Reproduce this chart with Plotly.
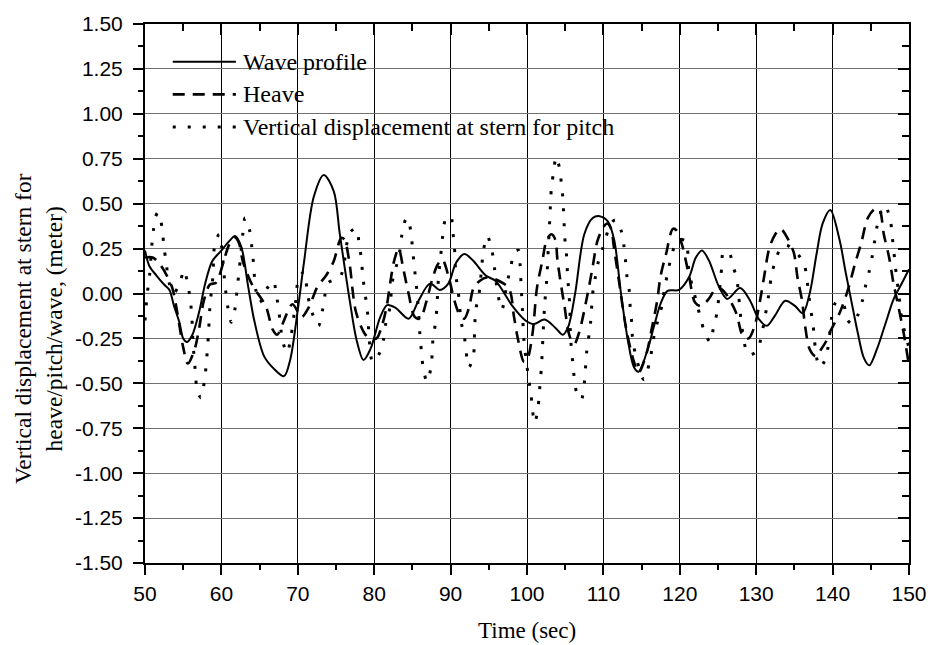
import plotly.graph_objects as go

# ---------------- data ----------------
t_wave = [50.0, 50.6, 51.5, 52.5, 53.2, 53.8, 54.5, 55.0, 55.5, 56.2, 57.1, 57.9, 58.8, 59.9, 61.0, 61.8, 62.6, 63.5, 64.3, 65.6,
          66.9, 68.2, 69.0, 70.0, 70.8, 72.1, 73.4, 74.7, 75.5, 76.8, 77.7, 78.6, 79.5, 80.8, 81.7, 82.8, 84.5, 85.8, 87.3, 88.6,
          89.7, 90.7, 91.8, 92.9, 94.6, 95.9, 98.1, 99.8, 100.9, 102.3, 103.7, 104.7, 105.4, 106.3, 107.5, 108.6, 109.5, 110.6, 111.4, 112.3,
          113.2, 114.0, 114.6, 115.8, 116.7, 117.5, 118.4, 119.9, 121.2, 122.1, 122.9, 123.8, 125.1, 126.2, 127.9, 129.2, 130.3, 131.4, 132.5, 133.8,
          135.1, 136.1, 137.0, 137.9, 138.7, 139.7, 140.9, 141.7, 142.4, 143.3, 144.1, 144.8, 145.8, 146.9, 148.0, 149.1, 150.0]
wave = [0.24, 0.15, 0.10, 0.05, 0.02, -0.07, -0.16, -0.25, -0.27, -0.23, -0.10, 0.06, 0.18, 0.235, 0.29, 0.32, 0.26, 0.04, -0.15, -0.35,
        -0.42, -0.46, -0.37, -0.09, 0.17, 0.54, 0.66, 0.57, 0.33, -0.04, -0.26, -0.37, -0.31, -0.13, -0.065, -0.08, -0.14, -0.04, 0.055, 0.02,
        0.055, 0.17, 0.22, 0.185, 0.10, 0.07, -0.07, -0.15, -0.17, -0.145, -0.19, -0.23, -0.185, 0.0, 0.33, 0.42, 0.43, 0.40, 0.30, 0.0,
        -0.26, -0.41, -0.435, -0.31, -0.17, -0.055, 0.015, 0.02, 0.09, 0.20, 0.24, 0.185, 0.04, -0.03, 0.03, -0.04, -0.14, -0.18, -0.12, -0.04,
        -0.07, -0.11, 0.0, 0.22, 0.39, 0.465, 0.30, 0.12, -0.03, -0.22, -0.36, -0.40, -0.31, -0.17, -0.03, 0.06, 0.135]

t_heave = [50.0, 51.0, 52.0, 53.5, 54.2, 55.0, 55.6, 56.5, 57.1, 57.7,
           58.5, 59.3, 60.3, 61.0, 61.8, 62.3, 62.8, 64.0, 65.8, 66.7,
           67.3, 68.0, 69.3, 70.5, 71.4, 72.6, 73.7, 74.7, 75.7, 76.1,
           76.7, 77.6, 78.7, 79.4, 80.3, 81.0, 81.6, 82.1, 82.6, 83.2,
           83.8, 84.5, 85.3, 86.0, 86.8, 87.6, 88.3, 88.9, 89.7, 90.5,
           91.2, 91.8, 92.4, 93.0, 93.8, 94.8, 95.8, 97.6, 98.3, 98.8,
           99.6, 100.0, 100.7, 101.3, 102.0, 102.6, 103.2, 103.7, 104.0, 104.9,
           105.6, 106.2, 106.8, 107.9, 108.6, 109.2, 110.0, 110.5, 111.0, 111.4,
           112.0, 113.0, 114.0, 114.6, 115.6, 116.4, 117.0, 117.5, 118.2, 119.1,
           119.6, 120.3, 121.2, 122.0, 122.8, 123.8, 124.8, 125.6, 127.3, 128.3,
           129.0, 129.8, 130.5, 131.1, 131.7, 132.5, 133.2, 133.8, 134.9, 135.4,
           136.0, 136.4, 137.0, 137.8, 138.5, 139.1, 139.6, 141.0, 142.0, 142.9,
           143.8, 144.6, 145.5, 146.1, 146.7, 147.4, 148.0, 148.6, 149.3, 150.0]
heave = [0.20, 0.20, 0.16, 0.04, -0.10, -0.30, -0.39, -0.31, -0.19, -0.04,
         0.05, 0.06, 0.18, 0.27, 0.31, 0.28, 0.18, 0.05, -0.07, -0.20,
         -0.23, -0.17, -0.06, -0.13, -0.08, 0.04, 0.10, 0.18, 0.31, 0.30,
         0.19, -0.10, -0.22, -0.25, -0.25, -0.18, -0.08, 0.06, 0.18, 0.25,
         0.14, 0.0, -0.13, -0.14, -0.05, 0.08, 0.16, 0.19, 0.10, -0.04,
         -0.12, -0.14, -0.08, 0.03, 0.07, 0.09, 0.08, 0.03, -0.13, -0.25,
         -0.38, -0.37, -0.23, 0.03, 0.18, 0.30, 0.33, 0.30, 0.18, -0.07,
         -0.24, -0.28, -0.22, -0.01, 0.15, 0.29, 0.37, 0.39, 0.36, 0.25,
         0.08, -0.20, -0.38, -0.44, -0.34, -0.18, -0.05, 0.10, 0.22, 0.36,
         0.35, 0.27, 0.10, -0.05, -0.07, -0.03, 0.03, 0.02, -0.10, -0.24,
         -0.25, -0.18, -0.04, 0.11, 0.25, 0.33, 0.36, 0.33, 0.23, 0.09,
         -0.04, -0.18, -0.31, -0.35, -0.31, -0.27, -0.22, -0.10, 0.02, 0.16,
         0.29, 0.42, 0.47, 0.47, 0.33, 0.20, 0.05, -0.07, -0.22, -0.40]

t_pitch = [50.0, 50.3, 50.6, 50.9, 51.1, 51.4, 51.7, 52.0, 52.3, 52.5,
           52.8, 53.0, 53.7, 54.5, 55.1, 55.6, 55.9, 56.1, 56.3, 56.6,
           56.8, 57.3, 57.8, 58.0, 58.3, 58.5, 58.9, 59.1, 59.7, 60.0,
           60.4, 60.6, 60.9, 61.3, 61.8, 62.0, 62.5, 62.8, 63.1, 63.7,
           64.0, 64.2, 64.5, 65.0, 66.0, 66.8, 67.2, 67.5, 68.0, 68.6,
           69.1, 69.7, 70.1, 70.8, 71.2, 71.6, 72.7, 73.2, 73.5, 74.0,
           75.5, 76.1, 76.8, 77.7, 78.0, 78.3, 78.5, 78.7, 79.0, 79.2,
           79.3, 79.8, 80.6, 81.2, 81.5, 82.0, 82.4, 83.0, 83.4, 83.6,
           84.1, 84.4, 84.8, 85.0, 85.2, 85.4, 85.6, 85.9, 86.0, 86.2,
           86.4, 86.9, 87.4, 87.6, 87.7, 88.0, 88.2, 88.4, 88.8, 89.0,
           89.4, 90.0, 90.3, 90.5, 90.7, 91.0, 91.4, 91.8, 92.4, 93.0,
           93.1, 93.3, 93.7, 94.1, 94.3, 94.8, 95.4, 95.7, 95.9, 96.7,
           97.4, 97.9, 98.3, 98.9, 99.1, 99.2, 99.4, 99.6, 100.2, 100.5,
           100.7, 101.0, 101.4, 101.6, 101.9, 102.1, 102.3, 102.6, 102.8, 103.0,
           103.2, 103.5, 103.8, 104.3, 104.5, 104.7, 104.8, 105.0, 105.2, 105.3,
           105.6, 105.7, 106.0, 106.5, 107.1, 107.5, 107.8, 108.3, 108.6, 108.9,
           109.3, 109.9, 111.0, 111.6, 112.4, 112.7, 112.9, 113.1, 113.4, 113.5,
           113.7, 113.8, 114.1, 115.3, 116.0, 116.7, 117.7, 118.0, 118.4, 118.8,
           119.5, 120.2, 120.8, 121.2, 121.9, 122.3, 122.7, 123.2, 124.0, 124.4,
           124.9, 125.1, 125.5, 125.7, 126.4, 127.0, 127.5, 127.7, 127.9, 128.1,
           129.0, 130.1, 130.7, 131.4, 131.7, 132.0, 132.5, 133.3, 134.0, 134.8,
           135.6, 136.3, 136.6, 137.1, 137.4, 137.6, 137.8, 138.3, 138.9, 139.4,
           139.9, 140.4, 141.0, 141.5, 142.0, 142.6, 143.3, 143.9, 144.3, 144.8,
           145.2, 145.5, 145.8, 146.3, 146.9, 147.3, 147.6, 147.8, 148.0, 148.2,
           148.4, 148.7, 148.9, 149.3, 149.7, 150.0]
pitch = [-0.15, 0.00, 0.10, 0.27, 0.35, 0.43, 0.45, 0.42, 0.34, 0.25,
         0.17, 0.09, 0.00, 0.05, 0.13, 0.05, -0.03, -0.11, -0.28, -0.44,
         -0.53, -0.58, -0.48, -0.40, -0.23, -0.07, 0.10, 0.26, 0.33, 0.27,
         0.08, 0.00, -0.09, -0.16, -0.08, 0.00, 0.20, 0.33, 0.42, 0.35,
         0.25, 0.17, 0.02, -0.05, 0.03, 0.07, -0.01, -0.09, -0.26, -0.33,
         -0.24, -0.05, 0.08, 0.12, 0.03, -0.07, -0.18, -0.10, -0.02, 0.06,
         0.09, 0.18, 0.34, 0.36, 0.28, 0.20, 0.10, 0.03, -0.06, -0.14,
         -0.22, -0.38, -0.34, -0.26, -0.17, -0.09, 0.07, 0.17, 0.25, 0.32,
         0.41, 0.42, 0.34, 0.26, 0.17, 0.09, 0.01, -0.16, -0.24, -0.33,
         -0.41, -0.49, -0.42, -0.33, -0.25, -0.17, -0.08, 0.08, 0.25, 0.33,
         0.42, 0.43, 0.34, 0.26, 0.10, 0.01, -0.16, -0.24, -0.41, -0.34,
         -0.26, -0.09, -0.01, 0.16, 0.24, 0.32, 0.24, 0.16, 0.08, -0.09,
         0.06, 0.15, 0.23, 0.24, 0.16, 0.07, -0.09, -0.26, -0.47, -0.55,
         -0.64, -0.72, -0.65, -0.56, -0.40, -0.23, -0.07, 0.09, 0.26, 0.43,
         0.59, 0.68, 0.76, 0.69, 0.61, 0.53, 0.44, 0.28, 0.20, 0.11,
         -0.07, -0.24, -0.39, -0.55, -0.59, -0.50, -0.33, -0.17, 0.00, 0.08,
         0.17, 0.25, 0.39, 0.41, 0.34, 0.26, 0.18, 0.09, 0.01, -0.07,
         -0.16, -0.24, -0.32, -0.48, -0.39, -0.22, -0.06, 0.03, 0.11, 0.19,
         0.28, 0.30, 0.29, 0.12, 0.00, -0.07, -0.13, -0.21, -0.27, -0.19,
         -0.10, -0.02, 0.15, 0.23, 0.23, 0.15, 0.07, -0.01, -0.10, -0.18,
         -0.34, -0.32, -0.23, -0.07, 0.01, 0.10, 0.18, 0.26, 0.27, 0.24,
         0.21, 0.16, 0.09, -0.08, -0.16, -0.24, -0.33, -0.41, -0.38, -0.30,
         -0.13, -0.05, -0.04, -0.07, -0.15, -0.17, -0.12, -0.04, 0.04, 0.125,
         0.21, 0.29, 0.37, 0.45, 0.49, 0.45, 0.40, 0.32, 0.24, 0.16,
         0.08, -0.01, -0.10, -0.19, -0.26, -0.30]

series_names = ["Wave profile", "Heave", "Vertical displacement at stern for pitch"]
y_tick_vals = [-1.5, -1.25, -1.0, -0.75, -0.5, -0.25, 0.0, 0.25, 0.5, 0.75, 1.0, 1.25, 1.5]
y_tick_text = ["-1.50", "-1.25", "-1.00", "-0.75", "-0.50", "-0.25", "0.00", "0.25", "0.50", "0.75", "1.00", "1.25", "1.50"]
x_title = "Time (sec)"
y_title = "Vertical displacement at stern for<br>heave/pitch/wave, (meter)"

# ---------------- styles ----------------
SERIF = "Liberation Serif, Times New Roman, serif"
SANS = "Liberation Sans, Arial, sans-serif"
styles = [
    dict(color="black", width=2, dash="solid"),
    dict(color="black", width=2.6, dash="12px,8px"),
    dict(color="black", width=3, dash="3px,12px"),
]

fig = go.Figure()
for xs, ys, st, nm in [(t_pitch, pitch, styles[2], series_names[2]),
                       (t_heave, heave, styles[1], series_names[1]),
                       (t_wave, wave, styles[0], series_names[0])]:
    fig.add_trace(go.Scatter(x=xs, y=ys, mode="lines", name=nm,
                             line=dict(color=st["color"], width=st["width"], dash=st["dash"],
                                       shape="spline", smoothing=0.9),
                             showlegend=False, hoverinfo="skip"))

# empty trace so the mirrored (inside-tick) axes are drawn
fig.add_trace(go.Scatter(x=[], y=[], xaxis="x2", yaxis="y2", showlegend=False, hoverinfo="skip"))

tickfont = dict(family=SANS, size=21, color="black")
fig.update_layout(
    width=939, height=645,
    margin=dict(l=145, r=22, t=19, b=82),
    plot_bgcolor="white", paper_bgcolor="white",
    showlegend=False,
    xaxis=dict(range=[50, 150], tickmode="linear", tick0=50, dtick=10,
               ticks="outside", ticklen=10, tickwidth=1.5, tickcolor="black",
               minor=dict(tick0=50, dtick=5, ticks="outside", ticklen=5, tickwidth=1.5,
                          tickcolor="black", showgrid=False),
               showline=True, linewidth=2, linecolor="black", mirror=True,
               showgrid=True, gridcolor="black", gridwidth=1, zeroline=False,
               tickfont=tickfont, ticklabelstandoff=1),
    yaxis=dict(range=[-1.5, 1.5], tickmode="array", tickvals=y_tick_vals, ticktext=y_tick_text,
               ticks="outside", ticklen=10, tickwidth=1.5, tickcolor="black",
               minor=dict(tickmode="linear", tick0=-1.5, dtick=0.125, ticks="outside", ticklen=5,
                          tickwidth=1.5, tickcolor="black", showgrid=False),
               showline=True, linewidth=2, linecolor="black", mirror=True,
               showgrid=True, gridcolor="#707070", gridwidth=1, zeroline=False,
               tickfont=tickfont, ticklabelstandoff=6),
    xaxis2=dict(overlaying="x", side="top", anchor="y", range=[50, 150], tickmode="linear",
                tick0=50, dtick=10, ticks="inside", ticklen=11, tickwidth=1.5, tickcolor="black",
                minor=dict(tick0=50, dtick=5, ticks="inside", ticklen=7, tickwidth=1.5,
                           tickcolor="black", showgrid=False),
                showticklabels=False, showgrid=False, zeroline=False, showline=False),
    yaxis2=dict(overlaying="y", side="right", anchor="x", range=[-1.5, 1.5], tickmode="array",
                tickvals=y_tick_vals, ticks="inside", ticklen=11, tickwidth=1.5, tickcolor="black",
                minor=dict(tickmode="linear", tick0=-1.5, dtick=0.125, ticks="inside", ticklen=7,
                           tickwidth=1.5, tickcolor="black", showgrid=False),
                showticklabels=False, showgrid=False, zeroline=False, showline=False),
)

# axis titles
fig.add_annotation(text=x_title, xref="paper", yref="paper", x=0.5, y=-0.125,
                   xanchor="center", yanchor="middle", showarrow=False,
                   font=dict(family=SERIF, size=23, color="black"))
fig.add_annotation(text=y_title, xref="paper", yref="paper", x=-0.140, y=0.434,
                   xanchor="center", yanchor="middle", showarrow=False, textangle=-90,
                   font=dict(family=SERIF, size=23.5, color="black"))

# legend (drawn inside the plot, top-left)
leg_y = [0.930, 0.8695, 0.8088]
for i in range(3):
    st = styles[i]
    fig.add_shape(type="line", xref="paper", yref="paper", x0=0.0363, x1=0.119,
                  y0=leg_y[i], y1=leg_y[i],
                  line=dict(color="black", width=st["width"], dash=st["dash"]))
    fig.add_annotation(text=series_names[i], xref="paper", yref="paper", x=0.126, y=leg_y[i],
                       xanchor="left", yanchor="middle", showarrow=False,
                       font=dict(family=SERIF, size=24, color="black"))

fig.write_html("out.html")
